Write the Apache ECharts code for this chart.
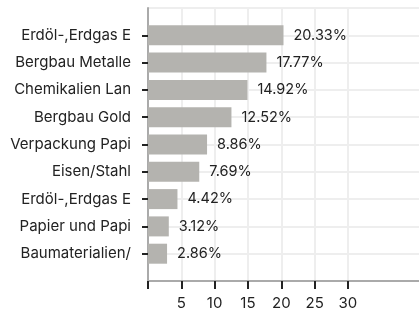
<!DOCTYPE html>
<html>
<head>
<meta charset="utf-8">
<script src="https://cdn.jsdelivr.net/npm/echarts@6/dist/echarts.min.js"></script>
<style>
  html, body { margin: 0; padding: 0; background: #fff; }
  #chart { width: 419px; height: 311px; }
</style>
</head>
<body>
<div id="chart"></div>
<script>
// top to bottom, as in the picture
const sectors = ['Erdöl-,Erdgas E', 'Bergbau Metalle', 'Chemikalien Lan', 'Bergbau Gold',
  'Verpackung Papi', 'Eisen/Stahl', 'Erdöl-,Erdgas E', 'Papier und Papi', 'Baumaterialien/'];
const shares = [20.33, 17.77, 14.92, 12.52, 8.86, 7.69, 4.42, 3.12, 2.86];
const tickValues = [0, 5, 10, 15, 20, 25, 30];
const labelValues = [5, 10, 15, 20, 25, 30];

// category axis runs bottom-up; pad one empty slot at each end
const yCats = [''].concat(sectors.slice().reverse(), ['']);
const yVals = [null].concat(shares.slice().reverse(), [null]);

const chart = echarts.init(document.getElementById('chart'));
const font = 'Inter';

chart.setOption({
  animation: false,
  grid: { left: 148, right: 0, top: 8, bottom: 30 },
  xAxis: {
    type: 'value',
    min: 0,
    max: 40.66,
    interval: 5,
    axisLine: { show: true, lineStyle: { color: '#aaaaaa', width: 2 } },
    axisTick: { show: true, customValues: tickValues, length: 8, lineStyle: { color: '#222', width: 2 } },
    axisLabel: { customValues: labelValues, margin: 15, fontFamily: font, fontSize: 15, color: '#222' },
    splitLine: { show: true, lineStyle: { color: '#eeeeee', width: 2 } }
  },
  yAxis: {
    type: 'category',
    data: yCats,
    boundaryGap: false,
    axisLine: { show: true, lineStyle: { color: '#aaaaaa', width: 2 } },
    axisTick: {
      show: true, length: 6,
      interval: (i) => i >= 1 && i <= sectors.length,
      lineStyle: { color: '#222', width: 2 }
    },
    axisLabel: { interval: 0, margin: 17, fontFamily: font, fontSize: 15, color: '#222' },
    splitLine: { show: true, interval: 0, lineStyle: { color: '#eeeeee', width: 2 } }
  },
  series: [{
    type: 'bar',
    data: yVals,
    barWidth: 20,
    itemStyle: { color: '#b4b3af' },
    label: {
      show: true, position: 'right', distance: 10,
      formatter: (p) => p.value + '%',
      fontFamily: font, fontSize: 14.5, color: '#222'
    }
  }]
});
</script>
</body>
</html>
